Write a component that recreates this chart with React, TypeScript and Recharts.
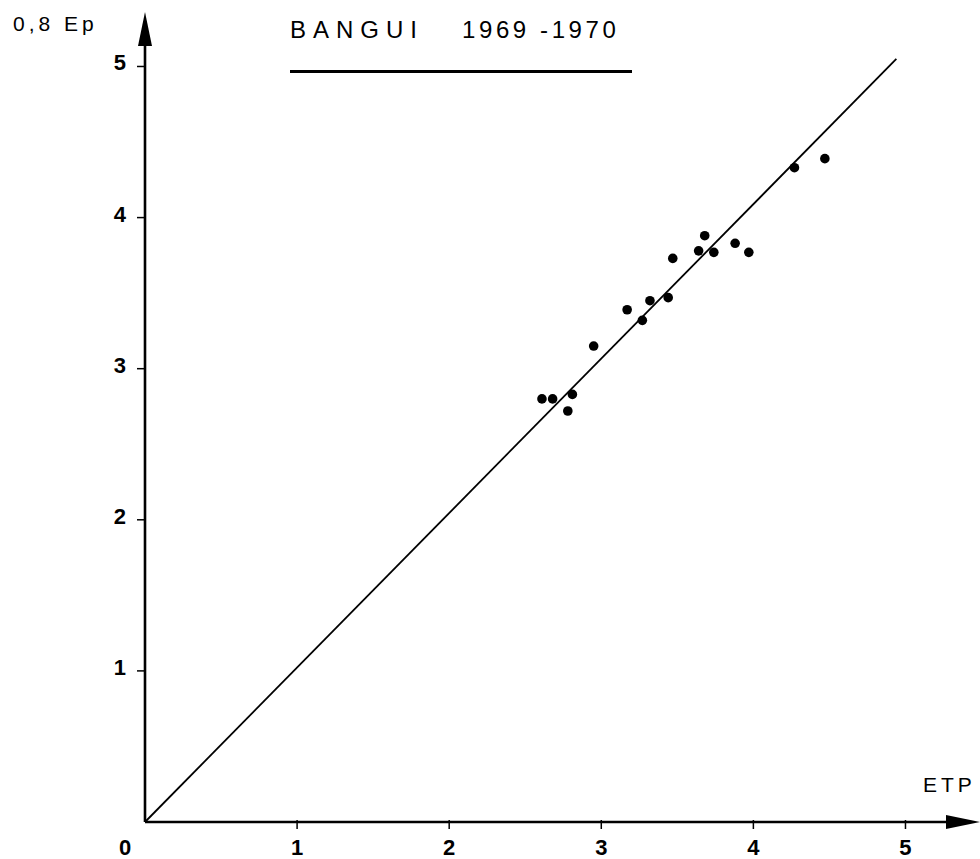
import { ScatterChart, Scatter, XAxis, YAxis, ReferenceLine } from "recharts";

// ETP (x) vs 0,8 Ep (y), Bangui 1969-1970
const etp = [2.61, 2.68, 2.78, 2.81, 2.95, 3.17, 3.27, 3.32, 3.44, 3.47, 3.64, 3.68, 3.74, 3.88, 3.97, 4.27, 4.47];
const ep08 = [2.8, 2.8, 2.72, 2.83, 3.15, 3.39, 3.32, 3.45, 3.47, 3.73, 3.78, 3.88, 3.77, 3.83, 3.77, 4.33, 4.39];

const xTicks = [0, 1, 2, 3, 4, 5];
const yTicks = [1, 2, 3, 4, 5];

// fitted line end points
const fitX = [0, 4.94];
const fitY = [0, 5.05];

const X_MAX = 5.49;
const Y_MAX = 5.44;

const points = etp.map((x, i) => ({ x, y: ep08[i] }));

const FONT = "'Liberation Sans', Arial, sans-serif";

function XTick(props: any) {
  const { x, y, payload } = props;
  const v = payload.value;
  const label = (
    <text x={v === 0 ? x - 20 : x} y={y + 33} textAnchor="middle" fontFamily={FONT} fontSize={22} fontWeight="bold" fill="#000">
      {v}
    </text>
  );
  if (v === 0) return label;
  return (
    <g>
      <line x1={x} y1={y - 2} x2={x} y2={y + 7} stroke="#000" strokeWidth={1.5} />
      {label}
    </g>
  );
}

function YTick(props: any) {
  const { x, y, payload } = props;
  return (
    <g>
      <line x1={x - 8} y1={y} x2={x} y2={y} stroke="#000" strokeWidth={1.5} />
      <text x={x - 19} y={y + 4} textAnchor="end" fontFamily={FONT} fontSize={22} fontWeight="bold" fill="#000">
        {payload.value}
      </text>
    </g>
  );
}

function Arrow(props: any) {
  const { x1, y1, x2, y2 } = props;
  const ang = Math.atan2(y2 - y1, x2 - x1);
  const len = 34;
  const half = 7;
  const bx = x2 - len * Math.cos(ang);
  const by = y2 - len * Math.sin(ang);
  const px = -Math.sin(ang) * half;
  const py = Math.cos(ang) * half;
  return (
    <g>
      <line x1={x1} y1={y1} x2={bx} y2={by} stroke="#000" strokeWidth={2.6} />
      <polygon points={`${x2},${y2} ${bx + px},${by + py} ${bx - px},${by - py}`} fill="#000" />
    </g>
  );
}

const Dot = (props: any) => <circle cx={props.cx} cy={props.cy} r={4.8} fill="#000" />;

export default function App() {
  return (
    <div style={{ position: "absolute", left: 0, top: 0, width: 980, height: 859, background: "#fff", overflow: "hidden" }}>
      <ScatterChart width={980} height={859} margin={{ top: 0, right: 0, bottom: 0, left: 0 }}>
        <XAxis
          type="number"
          dataKey="x"
          domain={[0, X_MAX]}
          ticks={xTicks}
          height={37}
          tickSize={0}
          tickMargin={0}
          axisLine={false}
          tickLine={false}
          tick={<XTick />}
          allowDataOverflow
        />
        <YAxis
          type="number"
          dataKey="y"
          domain={[0, Y_MAX]}
          ticks={yTicks}
          width={145}
          tickSize={0}
          tickMargin={0}
          axisLine={false}
          tickLine={false}
          tick={<YTick />}
          allowDataOverflow
        />
        <ReferenceLine
          segment={[{ x: fitX[0], y: fitY[0] }, { x: fitX[1], y: fitY[1] }]}
          stroke="#000"
          strokeWidth={1.8}
          ifOverflow="visible"
        />
        <ReferenceLine segment={[{ x: 0, y: 0 }, { x: X_MAX, y: 0 }]} shape={<Arrow />} ifOverflow="visible" />
        <ReferenceLine segment={[{ x: 0, y: 0 }, { x: 0, y: 5.36 }]} shape={<Arrow />} ifOverflow="visible" />
        <Scatter data={points} shape={<Dot />} isAnimationActive={false} />
      </ScatterChart>

      <div style={{ position: "absolute", left: 13, top: 13, fontFamily: FONT, fontSize: 21, lineHeight: "21px", letterSpacing: 4, whiteSpace: "pre" }}>
        0,8 Ep
      </div>
      <div style={{ position: "absolute", left: 923, top: 774, fontFamily: FONT, fontSize: 21, lineHeight: "21px", letterSpacing: 4, whiteSpace: "pre" }}>
        ETP
      </div>
      <div style={{ position: "absolute", left: 290, top: 18, fontFamily: FONT, fontSize: 24, lineHeight: "24px", letterSpacing: 7, whiteSpace: "pre" }}>
        BANGUI
      </div>
      <div style={{ position: "absolute", left: 462, top: 18, fontFamily: FONT, fontSize: 24, lineHeight: "24px", letterSpacing: 3.6, whiteSpace: "pre" }}>
        1969 -1970
      </div>
      <div style={{ position: "absolute", left: 290, top: 70, width: 342, height: 0, borderTop: "3px solid #000" }} />
    </div>
  );
}
